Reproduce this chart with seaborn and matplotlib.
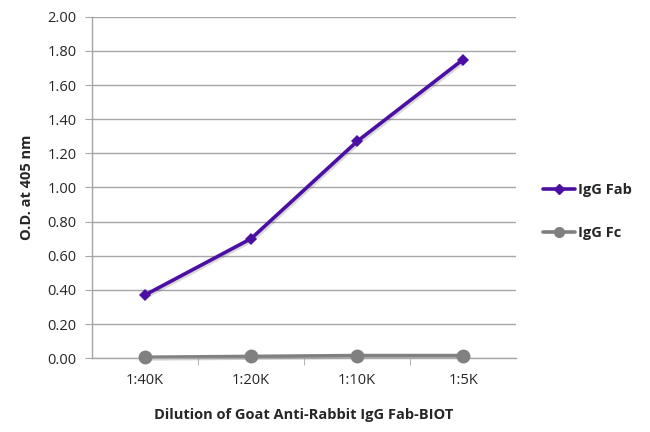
import pandas as pd
import numpy as np
import matplotlib.pyplot as plt
import matplotlib.patheffects as pe
from matplotlib.lines import Line2D
import seaborn as sns

# Data
dilutions = ['1:40K', '1:20K', '1:10K', '1:5K']
igg_fab = [0.37, 0.70, 1.27, 1.75]
igg_fc = [0.005, 0.01, 0.015, 0.015]
series_names = ['IgG Fab', 'IgG Fc']
y_ticks = [0.0, 0.2, 0.4, 0.6, 0.8, 1.0, 1.2, 1.4, 1.6, 1.8, 2.0]

df = pd.DataFrame({
    'Dilution': dilutions * 2,
    'OD': igg_fab + igg_fc,
    'Series': [series_names[0]] * 4 + [series_names[1]] * 4,
})
df['pos'] = df['Dilution'].map({d: i for i, d in enumerate(dilutions)})

sns.set_style('white')
plt.rcParams['font.family'] = ['Open Sans', 'DejaVu Sans']

fig = plt.figure(figsize=(6.5, 4.32), dpi=100)
ax = fig.add_axes([0.1415, 0.171, 0.6525, 0.79])

palette = {'IgG Fab': '#4c0fa3', 'IgG Fc': '#808080'}
shadow = [pe.SimpleLineShadow(offset=(1.2, -1.2), alpha=0.15), pe.Normal()]

sns.lineplot(data=df, x='pos', y='OD', hue='Series', palette=palette,
             linewidth=2.6, ax=ax, legend=False)
for line in ax.lines:
    line.set_path_effects(shadow)
    line.set_clip_on(False)

# markers on top
for name, mk, ms in [('IgG Fab', 'D', 6.5), ('IgG Fc', 'o', 10)]:
    sub = df[df['Series'] == name]
    ax.plot(sub['pos'], sub['OD'], linestyle='none', marker=mk, markersize=ms,
            color=palette[name], markeredgewidth=0, zorder=4, clip_on=False)

ax.set_xlim(-0.5, 3.5)
ax.set_ylim(0, 2.0)
ax.set_yticks(y_ticks)
ax.set_yticklabels([f'{v:.2f}' for v in y_ticks])
ax.set_xticks(range(len(dilutions)))
ax.set_xticklabels(dilutions)
ax.set_xticks([0.5, 1.5, 2.5], minor=True)

ax.yaxis.grid(True, color='#a6a6a6', linewidth=1)
ax.set_axisbelow(True)
for s in ['top', 'right']:
    ax.spines[s].set_visible(False)
for s in ['left', 'bottom']:
    ax.spines[s].set_color('#a6a6a6')
    ax.spines[s].set_linewidth(1)

ax.tick_params(axis='y', which='major', direction='out', length=5, color='#a6a6a6',
               labelsize=10.5, pad=6, left=True)
ax.tick_params(axis='x', which='major', length=0, labelsize=10.5, pad=11)
ax.tick_params(axis='x', which='minor', direction='out', length=5, color='#a6a6a6', bottom=True)

ax.set_xlabel('Dilution of Goat Anti-Rabbit IgG Fab-BIOT', fontsize=10.5,
              fontweight='bold', labelpad=14)
ax.set_ylabel('O.D. at 405 nm', fontsize=10.5, fontweight='bold', labelpad=10)

# legend on the right
handles = [Line2D([], [], color=palette['IgG Fab'], marker='D', markersize=5, linewidth=2.6),
           Line2D([], [], color=palette['IgG Fc'], marker='o', markersize=7, linewidth=2.6)]
fig.legend(handles, series_names, loc='center left', bbox_to_anchor=(0.815, 0.51),
           frameon=False, handlelength=2.2, handletextpad=0.2, labelspacing=2.0,
           prop={'weight': 'bold', 'size': 10.5})

fig.savefig('out.png', dpi=100)
